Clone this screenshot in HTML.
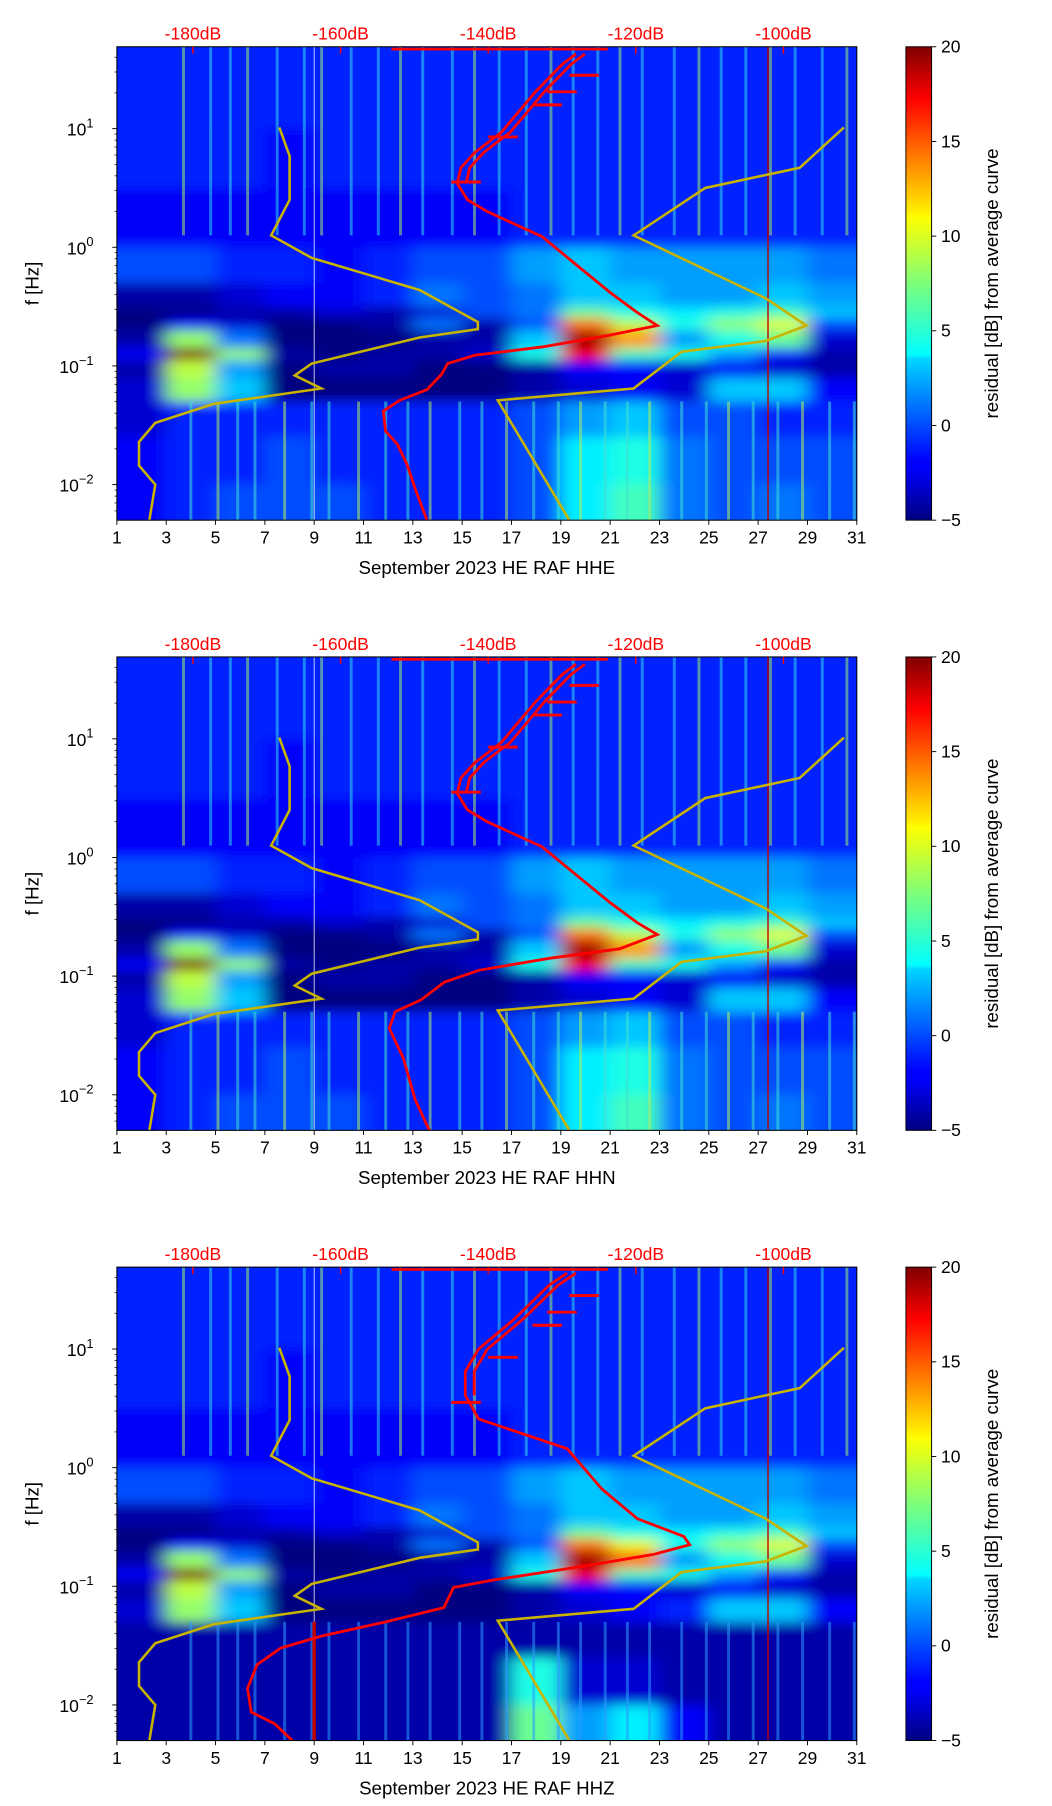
<!DOCTYPE html>
<html><head><meta charset="utf-8"><style>
html,body{margin:0;padding:0;background:#fff;}
svg{display:block;}
text{font-family:"Liberation Sans",sans-serif;}
</style></head><body>
<svg id="fig" width="1052" height="1806" viewBox="0 0 900 1545" preserveAspectRatio="none" xmlns="http://www.w3.org/2000/svg">
<defs>
<filter id="blur" x="-10%" y="-10%" width="120%" height="120%"><feGaussianBlur stdDeviation="8 5"/></filter>
<linearGradient id="jet" x1="0" y1="1" x2="0" y2="0">
<stop offset="0" stop-color="#00007f"/><stop offset="0.11" stop-color="#0000ff"/><stop offset="0.125" stop-color="#0000ff"/>
<stop offset="0.34" stop-color="#00d4ff"/><stop offset="0.35" stop-color="#0ff"/><stop offset="0.5" stop-color="#7dff7a"/>
<stop offset="0.64" stop-color="#ff0"/><stop offset="0.66" stop-color="#ffe600"/><stop offset="0.89" stop-color="#f00"/><stop offset="1" stop-color="#7f0000"/>
</linearGradient>
</defs>
</svg>
<script>
// ---- data ----
const days=[1,3,5,7,9,11,13,15,17,19,21,23,25,27,29,31];
const dbTicks=[-180,-160,-140,-120,-100];
const cbTicks=[20,15,10,5,0,-5];
const rowEdges=[1.75,1.0,0.5,0.0,-0.3,-0.5,-0.6,-0.7,-0.85,-0.95,-1.1,-1.3,-1.6,-2.0,-2.35];
const gridA=[
[-1,-1,-1,-1,-1,-1,-1,-1,-1,-1,-1,-1,-1,-1,-1],
[-1,-1,-1,-2,-1,-1,-1,-1,-1,-1,-1,-1,-1,-1,-1],
[-2,-2,-2,-2,-2,-2,-2,-2,-1,-1,-1,-1,-1,-1,-1],
[0,0,-1,-1,-2,-1,0,0,2,3,2,2,2,2,1],
[-4,-4,-3,-2,-2,-1,1,0,1,3,3,2,2,3,2],
[-5,-5,-4,-4,-3,-4,-3,0,1,7,5,4,5,6,3],
[-5,-2,-3,-5,-5,-4,1,-4,0,14,9,5,8,10,0],
[-4,8,1,-5,-5,-5,-4,-4,3,19,13,2,5,7,-3],
[-2,25,8,-4,-5,-4,-4,-3,5,17,6,5,2,-1,-4],
[-4,9,2,-5,-4,-4,-5,-5,-4,-2,-2,-3,-2,-3,-4],
[-3,8,3,-5,-5,-5,-5,-5,-4,-3,-2,-3,3,3,-2],
[-3,-1,-1,-1,-1,-1,-1,-1,0,2,3,0,0,-1,-1],
[-2,-1,-1,0,-1,-1,-1,-1,0,4,5,1,0,0,0],
[-2,-1,0,0,0,-1,-1,-1,0,4,6,1,0,1,0]];
const gridC=[
[-1,-1,-1,-1,-1,-1,-1,-1,-1,-1,-1,-1,-1,-1,-1],
[-1,-1,-1,-2,-1,-1,-1,-1,-1,-1,-1,-1,-1,-1,-1],
[-2,-2,-2,-2,-2,-2,-2,-2,-1,-1,-1,-1,-1,-1,-1],
[0,0,-1,-1,-2,-1,0,0,2,3,2,2,2,2,1],
[-4,-4,-3,-2,-2,-1,1,0,1,3,3,2,2,3,2],
[-5,-5,-4,-4,-3,-4,-3,0,1,7,5,4,5,6,3],
[-5,-2,-3,-5,-5,-4,1,-4,0,14,10,5,8,10,0],
[-4,8,1,-5,-5,-5,-4,-4,3,19,14,2,5,7,-3],
[-2,25,8,-4,-5,-4,-4,-3,5,17,6,5,2,-1,-4],
[-4,9,2,-5,-4,-4,-5,-5,-4,-2,-2,-3,-2,-3,-4],
[-3,8,3,-5,-5,-5,-5,-5,-4,-3,-2,-1,3,3,-2],
[-4,-4,-4,-4,-4,-4,-4,-4,-4,-4,-4,-4,-4,-4,-4],
[-4,-4,-4,-4,-4,-4,-4,-4,5,-3,-3,-4,-4,-4,-4],
[-4,-4,-4,-4,-4,-4,-4,-4,7,2,4,-2,-4,-4,-4]];
const streakDays=[3.7,4.8,5.6,6.3,7.5,8.6,9.3,10.5,11.6,12.5,13.4,14.6,15.5,16.5,17.6,18.6,19.5,20.5,21.4,22.3,23.6,24.6,25.5,26.5,27.5,28.5,29.6,30.6];
// red curve (dB, log10 f)
const redDbA=[-148.3,-149.8,-151.0,-152.3,-153.9,-154.2,-152.0,-148.3,-146.3,-145.5,-141.8,-132.7,-123.5,-117.1,-119.8,-123.5,-129.0,-132.7,-140.1,-142.8,-144.2,-143.7,-141.8,-138.2,-133.6,-130.0,-128.1];
const redLfA=[-2.30,-2.05,-1.83,-1.66,-1.55,-1.38,-1.29,-1.20,-1.07,-0.98,-0.91,-0.84,-0.74,-0.66,-0.55,-0.38,-0.10,0.09,0.30,0.40,0.54,0.67,0.80,0.97,1.31,1.54,1.63];
const redDbB=[-147.9,-149.9,-151.5,-153.4,-152.6,-149.1,-145.9,-141.2,-131.7,-122.2,-117.1,-119.8,-123.5,-129.0,-132.7,-140.1,-142.8,-144.2,-143.7,-141.8,-138.2,-133.6,-130.0,-128.1];
const redLfB=[-2.31,-2.04,-1.69,-1.44,-1.30,-1.20,-1.05,-0.95,-0.85,-0.77,-0.65,-0.55,-0.38,-0.10,0.09,0.30,0.40,0.54,0.67,0.80,0.97,1.31,1.54,1.63];
const redDbC=[-166.2,-168.9,-172.1,-172.6,-171.3,-168.1,-162.6,-153.9,-146.0,-144.7,-139.6,-127.0,-117.5,-112.7,-113.5,-119.8,-124.6,-129.3,-136.5,-141.3,-143.1,-143.1,-141.3,-136.5,-131.7,-129.3];
const redLfC=[-2.32,-2.16,-2.06,-1.86,-1.66,-1.52,-1.42,-1.30,-1.18,-1.01,-0.95,-0.83,-0.73,-0.65,-0.58,-0.43,-0.18,0.16,0.31,0.41,0.61,0.81,1.00,1.25,1.54,1.64];
const redTopDb=[-153.1,-123.8];
const spikeLf=[1.45,1.31,1.20,0.93,0.55];
const spikeDb=[-125,-128,-130,-136,-141];
// yellow curves
const yelDbA=[-185.9,-185.1,-187.3,-187.3,-185.1,-177.2,-162.6,-166.2,-163.9,-149.3,-141.4,-141.4,-149.3,-163.9,-169.4,-166.9,-166.9,-168.3];
const yelLfA=[-2.30,-2.00,-1.84,-1.64,-1.48,-1.32,-1.19,-1.08,-0.98,-0.76,-0.69,-0.63,-0.36,-0.09,0.10,0.40,0.77,1.01];
const yelDbB=[-129.0,-138.7,-120.3,-113.8,-102.4,-96.9,-102.4,-120.3,-110.6,-97.8,-91.8];
const yelLfB=[-2.30,-1.29,-1.19,-0.88,-0.79,-0.66,-0.43,0.10,0.50,0.67,1.01];
const channels=["HHE","HHN","HHZ"];

// ---- layout ----
const NS="http://www.w3.org/2000/svg";
const svg=document.getElementById('fig');
const X0=100,X1=733,H=405,LFTOP=1.69,LFBOT=-2.30;
const tops=[40,562,1084];
const CBX=775,CBW=22;
function el(tag,attrs,parent){const e=document.createElementNS(NS,tag);for(const k in attrs)e.setAttribute(k,attrs[k]);(parent||svg).appendChild(e);return e;}
const xDay=d=>X0+(d-1)*(X1-X0)/30;
const xDb=db=>X0+(db+190.3)*6.315;
function jet(v){let t=(v+5)/25;t=Math.max(0,Math.min(1,t));
 const r=Math.max(0,Math.min(1,1.5-Math.abs(4*t-3))),g=Math.max(0,Math.min(1,1.5-Math.abs(4*t-2))),b=Math.max(0,Math.min(1,1.5-Math.abs(4*t-1)));
 return `rgb(${Math.round(r*255)},${Math.round(g*255)},${Math.round(b*255)})`;}

tops.forEach((T,pi)=>{
 const yLf=lf=>T+(LFTOP-lf)*H/(LFTOP-LFBOT);
 const grid=pi===2?gridC:gridA;
 const clip=el('clipPath',{id:'clip'+pi});
 el('rect',{x:X0,y:T,width:X1-X0,height:H},clip);
 const g=el('g',{'clip-path':`url(#clip${pi})`});
 
 
 el('rect',{x:X0,y:T,width:X1-X0,height:H,fill:jet(-2)},g);
 const hg=el('g',{filter:'url(#blur)'},g);
 grid.forEach((row,ri)=>{row.forEach((v,ci)=>{
   const xa=ci===0?X0-20:xDay(1+ci*2), xb=ci===14?X1+20:xDay(3+ci*2);
   const ya=ri===0?T-20:yLf(rowEdges[ri]), yb=ri===grid.length-1?T+H+20:yLf(rowEdges[ri+1]);
   const c=el('rect',{x:xa,y:ya,width:xb-xa+0.5,height:yb-ya+0.5,fill:jet(v)},hg);
   
   
 });});
 // streaks
 streakDays.forEach((d,i)=>{
   const s=el('line',{x1:xDay(d),x2:xDay(d),y1:T,y2:yLf(0.1),stroke:i%3===0?'#9ef06a':'#30d8f0','stroke-width':2.5,opacity:0.55},g);
   
   
   const s2=el('line',{x1:xDay(d+0.3),x2:xDay(d+0.3),y1:yLf(-1.3),y2:T+H,stroke:pi===2?'#2a9cff':(i%3===1?'#b0f060':'#40e0d0'),'stroke-width':2.5,opacity:0.55},g);
   
   
 });
 el('line',{x1:xDay(9),x2:xDay(9),y1:T,y2:T+H,stroke:'#fff','stroke-width':0.8,opacity:0.8},g);
 el('line',{x1:xDay(27.4),x2:xDay(27.4),y1:T,y2:T+H,stroke:'#c00000','stroke-width':1.2},g);
 if(pi===2){el('line',{x1:xDay(9),x2:xDay(9),y1:yLf(-1.3),y2:T+H,stroke:'#c00000','stroke-width':3},g);}
 // yellow
 [[yelDbA,yelLfA],[yelDbB,yelLfB]].forEach(([D,L],k)=>{
   const p=el('polyline',{points:D.map((d,i)=>xDb(d)+','+yLf(L[i])).join(' '),fill:'none',stroke:'#c8b400','stroke-width':2.2},g);
   
   
 });
 // red
 const RD=[redDbA,redDbB,redDbC][pi],RL=[redLfA,redLfB,redLfC][pi];
 const rp=el('polyline',{points:RD.map((d,i)=>xDb(d)+','+yLf(RL[i])).join(' '),fill:'none',stroke:'#ff0000','stroke-width':2.4},g);
 
 
 const rp2=el('polyline',{points:RD.map((d,i)=>xDb(d+1.2)+','+yLf(RL[i])).filter((p,i)=>RL[i]>0.5).join(' '),fill:'none',stroke:'#ff0000','stroke-width':2.4},g);
 
 
 const rt=el('line',{x1:xDb(redTopDb[0]),x2:xDb(redTopDb[1]),y1:T+2,y2:T+2,stroke:'#ff0000','stroke-width':2.2},g);
 
 
 spikeLf.forEach((lf,i)=>{
   const sp=el('line',{x1:xDb(spikeDb[i]-4),x2:xDb(spikeDb[i]),y1:yLf(lf),y2:yLf(lf),stroke:'#ff0000','stroke-width':2.5},g);
   
   
 });
 // frame
 const fr=el('rect',{x:X0,y:T,width:X1-X0,height:H,fill:'none',stroke:'#000','stroke-width':0.9});
 
 
 // x ticks
 days.forEach(d=>{
   el('line',{x1:xDay(d),x2:xDay(d),y1:T+H,y2:T+H+4,stroke:'#000','stroke-width':0.8});
   const t=el('text',{x:xDay(d),y:T+H+20,'font-size':15,'text-anchor':'middle'});t.textContent=d;
   
   
 });
 const xt=el('text',{x:(X0+X1)/2,y:T+H+46,'font-size':16,'text-anchor':'middle'});
 xt.textContent='September 2023 HE RAF  '+channels[pi];
 
 
 // y ticks
 [1,0,-1,-2].forEach(e=>{
   const y=yLf(e);
   el('line',{x1:X0-4,x2:X0,y1:y,y2:y,stroke:'#000','stroke-width':0.8});
   const t=el('text',{x:X0-20,y:y+6,'font-size':15,'text-anchor':'end'});
   
   
   t.appendChild(document.createTextNode('10'));
   const ts=el('tspan',{dy:-7,'font-size':11},t);ts.textContent=e<0?'−'+(-e):String(e);
 });
 for(let e=-3;e<=1;e++)for(let m=2;m<=9;m++){const lf=e+Math.log10(m);if(lf<LFBOT||lf>LFTOP)continue;
   el('line',{x1:X0-2,x2:X0,y1:yLf(lf),y2:yLf(lf),stroke:'#000','stroke-width':0.6});}
 const yt=el('text',{x:0,y:0,'font-size':16,'text-anchor':'middle',transform:`translate(33,${T+H/2}) rotate(-90)`});
 yt.textContent='f [Hz]';
 
 
 // top dB axis
 dbTicks.forEach(db=>{
   el('line',{x1:xDb(db),x2:xDb(db),y1:T,y2:T+6,stroke:'#ff0000','stroke-width':1.2});
   const t=el('text',{x:xDb(db),y:T-6,'font-size':15,'text-anchor':'middle',fill:'#ff0000'});t.textContent=db+'dB';
   
   
 });
 // colorbar
 const cb=el('rect',{x:CBX,y:T,width:CBW,height:H,fill:'url(#jet)',stroke:'#000','stroke-width':0.8});
 
 
 cbTicks.forEach(v=>{const y=T+(20-v)*H/25;
   el('line',{x1:CBX+CBW,x2:CBX+CBW+4,y1:y,y2:y,stroke:'#000','stroke-width':0.8});
   const t=el('text',{x:CBX+CBW+8,y:y+5,'font-size':15});t.textContent=v<0?'−'+(-v):String(v);
   
   
 });
 const ct=el('text',{x:0,y:0,'font-size':16,'text-anchor':'middle',transform:`translate(854,${T+H/2}) rotate(-90)`});
 ct.textContent='residual [dB] from average curve';
 
 
});
</script>
</body></html>
